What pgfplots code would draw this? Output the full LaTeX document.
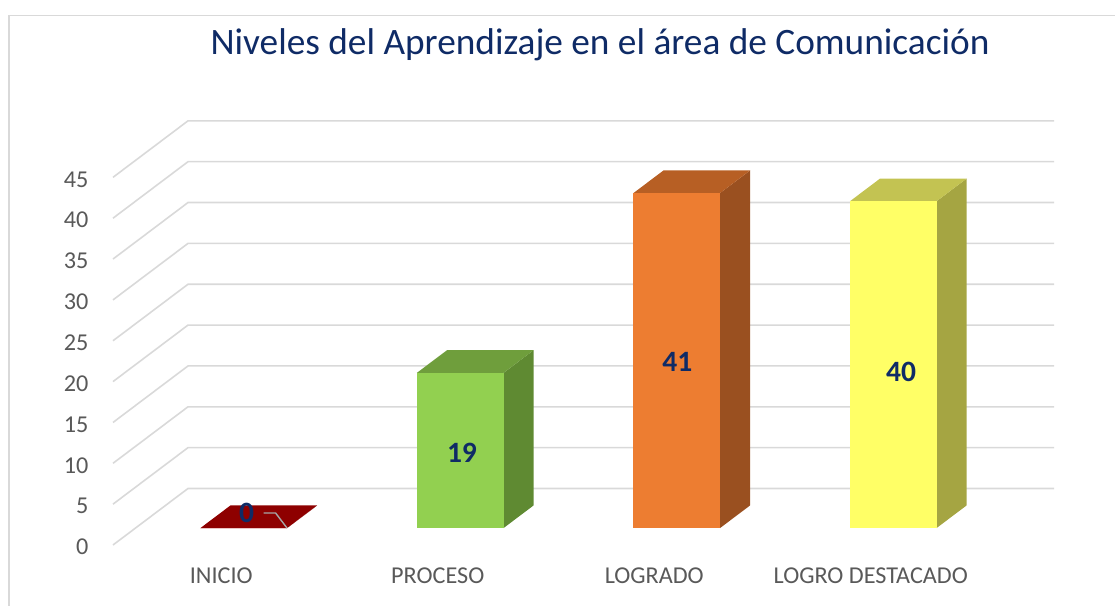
\documentclass[border=0pt]{standalone}
\usepackage{pgfplots}
\pgfplotsset{compat=1.18}
\usepackage{fontspec}
\setmainfont{Carlito}
\definecolor{titlec}{HTML}{0F2B66}
\definecolor{labc}{HTML}{0F2B66}
\definecolor{tickc}{HTML}{595959}
\definecolor{gridc}{HTML}{D9D9D9}
\definecolor{framec}{HTML}{D9D9D9}
\definecolor{leadc}{HTML}{A6A6A6}
\definecolor{rF}{HTML}{C00000}\definecolor{rT}{HTML}{8E0000}\definecolor{rS}{HTML}{700000}
\definecolor{gF}{HTML}{92D050}\definecolor{gT}{HTML}{6F9E3C}\definecolor{gS}{HTML}{5F8A32}
\definecolor{oF}{HTML}{ED7D31}\definecolor{oT}{HTML}{B75F24}\definecolor{oS}{HTML}{9A5020}
\definecolor{yF}{HTML}{FFFF66}\definecolor{yT}{HTML}{C3C352}\definecolor{yS}{HTML}{A5A542}
\tikzset{tklab/.style={font=\fontsize{24.2}{27}\selectfont, text=tickc},
         dlab/.style={font=\bfseries\fontsize{29.5}{31}\selectfont, text=labc}}
% #1 left x, #2 right x, #3 value, #4 front, #5 top, #6 side
\newcommand{\barthreed}[6]{%
\addplot3[fill=#6, draw=none] coordinates {(#2,0.3,0) (#2,0.7,0) (#2,0.7,#3) (#2,0.3,#3)} -- cycle;
\addplot3[fill=#5, draw=none] coordinates {(#1,0.3,#3) (#2,0.3,#3) (#2,0.7,#3) (#1,0.7,#3)} -- cycle;
\addplot3[fill=#4, draw=none] coordinates {(#1,0.3,0) (#2,0.3,0) (#2,0.3,#3) (#1,0.3,#3)} -- cycle;
}
\begin{document}
\begin{tikzpicture}
\begin{axis}[
  x={(216.5pt,0pt)}, y={(75pt,56.5pt)}, z={(0pt,8.17pt)},
  scale mode=none,
  xmin=-0.5, xmax=3.5, ymin=0, ymax=1, zmin=0, zmax=45,
  hide axis, clip=false, no marks,
]
\coordinate (O) at (axis cs:-0.5,0,0);
% grid lines on the side wall and back wall
\pgfplotsinvokeforeach{0,5,10,15,20,25,30,35,40,45}{
  \addplot3[gridc, line width=1.6pt] coordinates {(-0.5,0,#1) (-0.5,1,#1) (3.5,1,#1)};
  \node[tklab, anchor=east, xshift=-21pt, yshift=-2pt] at (axis cs:-0.5,0,#1) {#1};
}
% bars
\barthreed{-0.2}{0.2}{0}{rF}{rT}{rS}
\barthreed{0.8}{1.2}{19}{gF}{gT}{gS}
\barthreed{1.8}{2.2}{41}{oF}{oT}{oS}
\barthreed{2.8}{3.2}{40}{yF}{yT}{yS}
% leader for the zero label
\addplot3[leadc, line width=1.4pt] coordinates {(0.0,0.566,0) (0.055,0.566,0) (0.2,0.3,0)};
% data labels
\node[dlab] at (axis cs:-0.077,0.56,0) {0};
\node[dlab] at (axis cs:1.008,0.3,9.2) {19};
\node[dlab] at (axis cs:2.003,0.3,20.3) {41};
\node[dlab] at (axis cs:3.036,0.3,19.1) {40};
% category labels
\node[tklab, anchor=base, yshift=-38pt] at (axis cs:0,0,0) {INICIO};
\node[tklab, anchor=base, yshift=-38pt] at (axis cs:1,0,0) {PROCESO};
\node[tklab, anchor=base, yshift=-38pt] at (axis cs:2,0,0) {LOGRADO};
\node[tklab, anchor=base, yshift=-38pt] at (axis cs:3,0,0) {LOGRO DESTACADO};
\end{axis}
\node[anchor=base, text=titlec, font=\fontsize{37.3}{42}\selectfont] at ([shift={(487pt,490pt)}]O) {Niveles del Aprendizaje en el área de Comunicación};
\draw[framec, line width=1.5pt] ([shift={(-104pt,-100pt)}]O) rectangle ([shift={(1100pt,529.5pt)}]O);
\pgfresetboundingbox
\path[use as bounding box] ([shift={(-113pt,-60pt)}]O) rectangle ([shift={(1002pt,545pt)}]O);
\end{tikzpicture}
\end{document}
